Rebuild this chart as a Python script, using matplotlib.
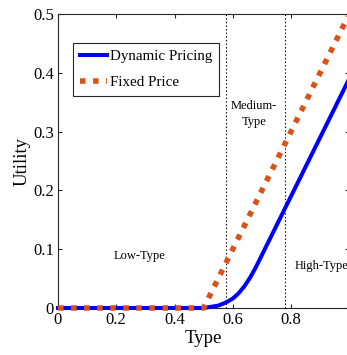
import matplotlib
matplotlib.use("Agg")
import matplotlib.pyplot as plt

plt.rcParams['font.family'] = ['Liberation Serif', 'DejaVu Serif']
plt.rcParams['lines.scale_dashes'] = False

# data
type_dyn = [0, 0.5, 0.55, 0.575, 0.6, 0.62, 0.64, 0.66, 0.68, 0.7, 0.75, 0.8, 0.9, 1.0]
util_dyn = [0, 0, 0.004, 0.009, 0.016, 0.025, 0.037, 0.052, 0.07, 0.09, 0.14, 0.19, 0.29, 0.39]
type_fix = [0, 0.5, 1.0]
util_fix = [0, 0, 0.5]
bounds = [0.577, 0.779]
xticks = [0, 0.2, 0.4, 0.6, 0.8, 1.0]
yticks = [0, 0.1, 0.2, 0.3, 0.4, 0.5]

fig = plt.figure(figsize=(3.47, 3.55), dpi=100)
ax = fig.add_axes([58/347, 47/355, 291.25/347, 294/355])

ax.plot(type_dyn, util_dyn, color='#0000ff', lw=2.9, label='Dynamic Pricing',
        clip_on=False, zorder=3)
ax.plot(type_fix, util_fix, color='#d95319', lw=4.0, dashes=(4.0, 5.4),
        dash_capstyle='butt', label='Fixed Price', clip_on=False, zorder=4)

for b in bounds:
    ax.axvline(b, color='black', lw=0.8, ls=(0, (1, 1.6)))

ax.text(0.28, 0.088, 'Low-Type', ha='center', va='center', fontsize=9)
ax.text(0.673, 0.33, 'Medium-\nType', ha='center', va='center', fontsize=9,
        linespacing=1.5)
ax.text(0.814, 0.071, 'High-Type', ha='left', va='center', fontsize=9)

ax.set_xlim(0, 1)
ax.set_ylim(0, 0.5)
ax.set_xticks(xticks)
ax.set_yticks(yticks)
ax.set_xticklabels(['0', '0.2', '0.4', '0.6', '0.8', ''])
ax.set_yticklabels(['0', '0.1', '0.2', '0.3', '0.4', '0.5'])
ax.tick_params(direction='in', length=3, labelsize=12, top=True, right=True,
               color='#262626', pad=3)
for s in ax.spines.values():
    s.set_color('#262626')
    s.set_linewidth(0.8)

ax.set_xlabel('Type', fontsize=13.5, labelpad=1)
ax.set_ylabel('Utility', fontsize=13.5, labelpad=2)

leg = ax.legend(loc='upper left', bbox_to_anchor=(0.0515, 0.901), borderaxespad=0,
                fontsize=10.8, handlelength=1.85, handletextpad=0.2,
                labelspacing=0.8, borderpad=0.45, fancybox=False, framealpha=1)
leg.get_frame().set_edgecolor('#262626')
leg.get_frame().set_linewidth(0.8)

fig.savefig('out.png', dpi=100)
